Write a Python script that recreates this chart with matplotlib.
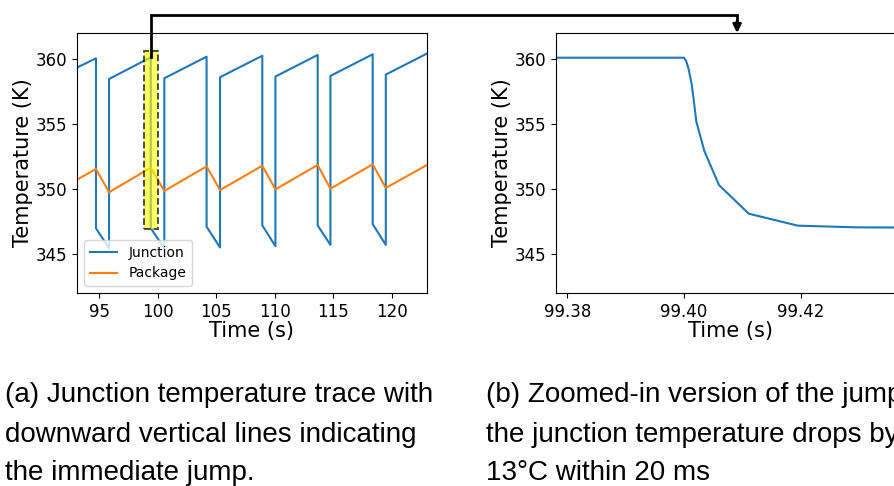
import matplotlib
matplotlib.use("Agg")
import matplotlib.pyplot as plt
from matplotlib.lines import Line2D
from matplotlib.patches import Rectangle, FancyArrowPatch

# ---- data ----
junction_time = [93.0, 94.72, 94.72, 95.84, 95.84, 99.40, 99.40, 100.56, 100.56,
                 104.17, 104.17, 105.32, 105.32, 108.93, 108.93, 110.05, 110.05,
                 113.66, 113.66, 114.75, 114.75, 118.36, 118.36, 119.48, 119.48, 123.0]
junction_temp = [359.3, 360.05, 346.98, 345.44, 358.46, 360.13, 346.98, 345.45, 358.52,
                 360.18, 347.1, 345.5, 358.6, 360.25, 347.2, 345.6, 358.65,
                 360.31, 347.2, 345.7, 358.7, 360.36, 347.3, 345.7, 358.8, 360.42]

package_time = [93.0, 94.72, 95.84, 99.40, 100.56, 104.17, 105.32, 108.93, 110.05,
                113.66, 114.75, 118.36, 119.48, 123.0]
package_temp = [350.67, 351.54, 349.75, 351.64, 349.85, 351.74, 349.92, 351.79, 349.97,
                351.85, 350.02, 351.9, 350.08, 351.85]

zoom_time = [99.375, 99.400, 99.4004, 99.4008, 99.4013, 99.4017, 99.4021, 99.4035,
             99.4060, 99.4111, 99.4195, 99.4295, 99.445]
zoom_temp = [360.1, 360.1, 359.8, 359.2, 358.1, 356.7, 355.2, 352.9,
             350.3, 348.1, 347.18, 347.05, 347.02]

yticks = [345, 350, 355, 360]
xticks_a = [95, 100, 105, 110, 115, 120]
xticks_b = [99.38, 99.40, 99.42]

caption_a = ["(a) Junction temperature trace with",
             "downward vertical lines indicating",
             "the immediate jump."]
caption_b = ["(b) Zoomed-in version of the jump:",
             "the junction temperature drops by",
             "13°C within 20 ms"]

highlight_x = (98.85, 100.05)
highlight_y = (346.9, 360.65)
jump_point = (99.40, 360.13)
arrow_target_x = 99.4091

BLUE = "#1f77b4"
ORANGE = "#ff7f0e"

W, H = 895, 486
fig = plt.figure(figsize=(W / 100, H / 100), dpi=100)

ax1 = fig.add_axes([77 / W, 1 - 293 / H, 350 / W, 260 / H])
ax2 = fig.add_axes([555.7 / W, 1 - 293 / H, 350 / W, 260 / H])

ax1.plot(junction_time, junction_temp, color=BLUE, lw=1.5, label="Junction")
ax1.plot(package_time, package_temp, color=ORANGE, lw=1.5, label="Package")
ax1.set_xlim(93.1, 123.0)
ax1.set_ylim(342, 362)
ax1.set_xticks(xticks_a)
ax1.set_yticks(yticks)
ax1.set_xlabel("Time (s)", fontsize=15, labelpad=0)
ax1.set_ylabel("Temperature (K)", fontsize=15, labelpad=2)
ax1.tick_params(labelsize=12)
ax1.legend(loc="lower left", fontsize=10)

rect = Rectangle((highlight_x[0], highlight_y[0]),
                 highlight_x[1] - highlight_x[0], highlight_y[1] - highlight_y[0],
                 facecolor=(1, 1, 0, 0.6), edgecolor=(0, 0, 0, 0.75),
                 linestyle="--", lw=1.3, zorder=3)
ax1.add_patch(rect)

ax2.plot(zoom_time, zoom_temp, color=BLUE, lw=1.5)
ax2.set_xlim(99.378, 99.438)
ax2.set_ylim(342, 362)
ax2.set_xticks(xticks_b)
ax2.set_xticklabels([f"{v:.2f}" for v in xticks_b])
ax2.set_yticks(yticks)
ax2.set_xlabel("Time (s)", fontsize=15, labelpad=0)
ax2.set_ylabel("Temperature (K)", fontsize=15, labelpad=2)
ax2.tick_params(labelsize=12)

# ---- connector arrow ----
to_fig = fig.transFigure.inverted()
sx, sy = to_fig.transform(ax1.transData.transform(jump_point))
ex, ey = to_fig.transform(ax2.transData.transform((arrow_target_x, 362)))
top_y = 1 - 15.3 / H
fig.add_artist(Line2D([sx, sx, ex, ex], [sy, top_y, top_y, ey + 10 / H],
                      color="black", lw=2, transform=fig.transFigure,
                      solid_joinstyle="miter", zorder=10))
fig.add_artist(FancyArrowPatch((ex, ey + 12 / H), (ex, ey), arrowstyle="-|>",
                               mutation_scale=12, color="black", lw=2,
                               transform=fig.transFigure, zorder=10,
                               shrinkA=0, shrinkB=0))

# ---- captions ----
baselines = [402, 442, 480]
for txt, b in zip(caption_a, baselines):
    fig.text(5 / W, 1 - b / H, txt, fontsize=20, family="Liberation Sans",
             va="baseline", ha="left")
for txt, b in zip(caption_b, baselines):
    fig.text(486 / W, 1 - b / H, txt, fontsize=20, family="Liberation Sans",
             va="baseline", ha="left")

fig.savefig("out.png", dpi=100)
